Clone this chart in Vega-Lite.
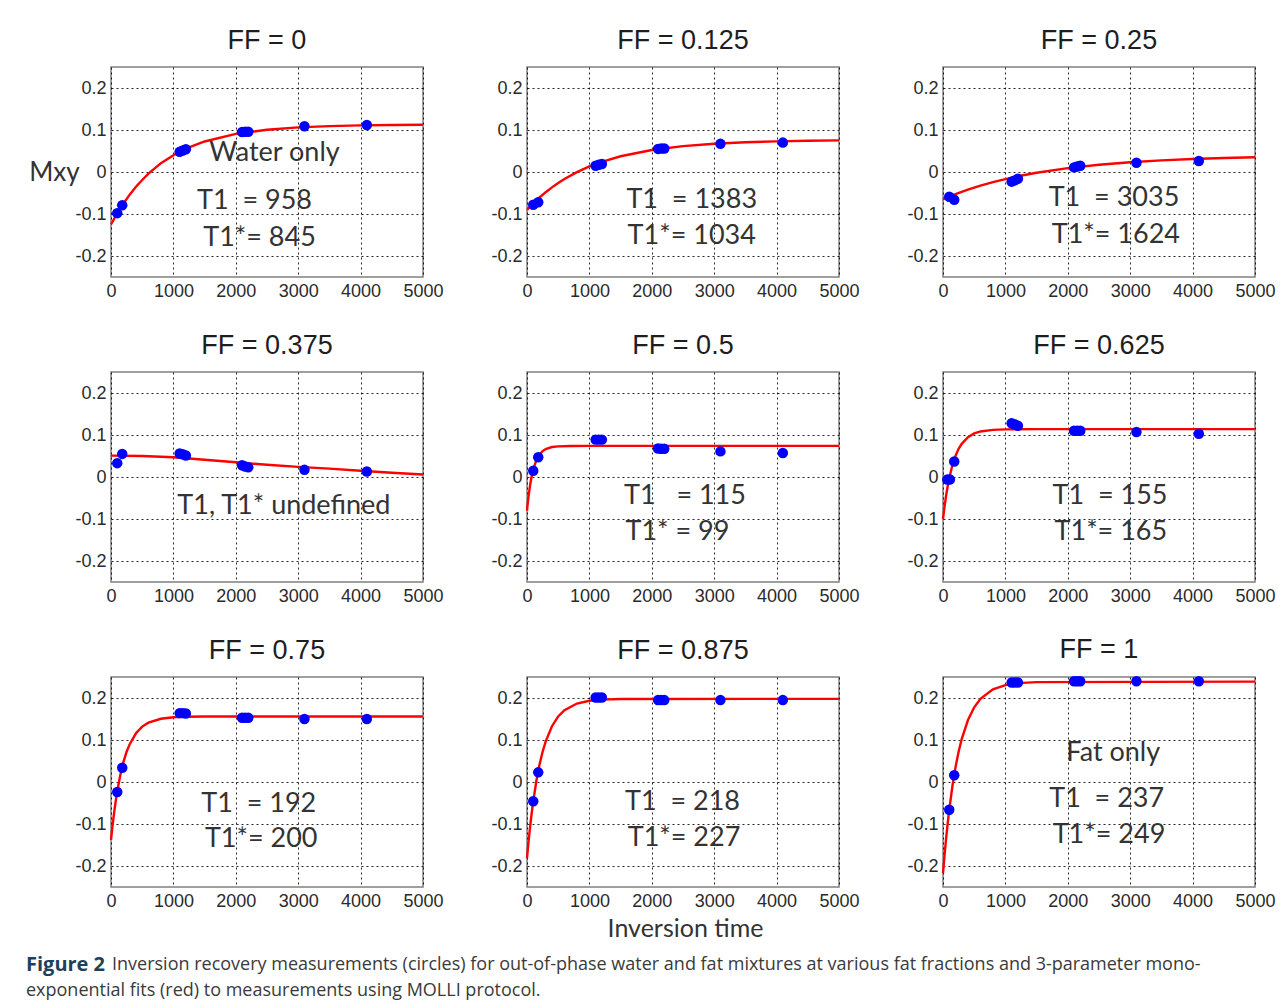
{
  "$schema": "https://vega.github.io/schema/vega-lite/v6.json",
  "background": "white",
  "padding": {"left": 26, "top": 26, "right": 5, "bottom": 5},
  "datasets": {
    "pts": [
      {"p": "0", "t": 100, "m": -0.098}, {"p": "0", "t": 180, "m": -0.079}, {"p": "0", "t": 1100, "m": 0.048}, {"p": "0", "t": 1150, "m": 0.051}, {"p": "0", "t": 1200, "m": 0.054}, {"p": "0", "t": 2100, "m": 0.095}, {"p": "0", "t": 2150, "m": 0.096}, {"p": "0", "t": 2200, "m": 0.096}, {"p": "0", "t": 3100, "m": 0.109}, {"p": "0", "t": 4100, "m": 0.112},
      {"p": "0.125", "t": 100, "m": -0.078}, {"p": "0.125", "t": 180, "m": -0.072}, {"p": "0.125", "t": 1100, "m": 0.015}, {"p": "0.125", "t": 1150, "m": 0.017}, {"p": "0.125", "t": 1200, "m": 0.019}, {"p": "0.125", "t": 2100, "m": 0.055}, {"p": "0.125", "t": 2150, "m": 0.056}, {"p": "0.125", "t": 2200, "m": 0.056}, {"p": "0.125", "t": 3100, "m": 0.067}, {"p": "0.125", "t": 4100, "m": 0.07},
      {"p": "0.25", "t": 100, "m": -0.059}, {"p": "0.25", "t": 180, "m": -0.066}, {"p": "0.25", "t": 1100, "m": -0.023}, {"p": "0.25", "t": 1150, "m": -0.02}, {"p": "0.25", "t": 1200, "m": -0.016}, {"p": "0.25", "t": 2100, "m": 0.011}, {"p": "0.25", "t": 2150, "m": 0.013}, {"p": "0.25", "t": 2200, "m": 0.015}, {"p": "0.25", "t": 3100, "m": 0.022}, {"p": "0.25", "t": 4100, "m": 0.026},
      {"p": "0.375", "t": 100, "m": 0.033}, {"p": "0.375", "t": 180, "m": 0.055}, {"p": "0.375", "t": 1100, "m": 0.056}, {"p": "0.375", "t": 1150, "m": 0.054}, {"p": "0.375", "t": 1200, "m": 0.051}, {"p": "0.375", "t": 2100, "m": 0.028}, {"p": "0.375", "t": 2150, "m": 0.025}, {"p": "0.375", "t": 2200, "m": 0.023}, {"p": "0.375", "t": 3100, "m": 0.017}, {"p": "0.375", "t": 4100, "m": 0.013},
      {"p": "0.5", "t": 100, "m": 0.015}, {"p": "0.5", "t": 180, "m": 0.047}, {"p": "0.5", "t": 1100, "m": 0.089}, {"p": "0.5", "t": 1150, "m": 0.089}, {"p": "0.5", "t": 1200, "m": 0.089}, {"p": "0.5", "t": 2100, "m": 0.068}, {"p": "0.5", "t": 2150, "m": 0.067}, {"p": "0.5", "t": 2200, "m": 0.067}, {"p": "0.5", "t": 3100, "m": 0.061}, {"p": "0.5", "t": 4100, "m": 0.057},
      {"p": "0.625", "t": 70, "m": -0.006}, {"p": "0.625", "t": 110, "m": -0.006}, {"p": "0.625", "t": 180, "m": 0.037}, {"p": "0.625", "t": 1100, "m": 0.128}, {"p": "0.625", "t": 1150, "m": 0.125}, {"p": "0.625", "t": 1200, "m": 0.122}, {"p": "0.625", "t": 2100, "m": 0.11}, {"p": "0.625", "t": 2150, "m": 0.11}, {"p": "0.625", "t": 2200, "m": 0.11}, {"p": "0.625", "t": 3100, "m": 0.107}, {"p": "0.625", "t": 4100, "m": 0.103},
      {"p": "0.75", "t": 100, "m": -0.024}, {"p": "0.75", "t": 180, "m": 0.034}, {"p": "0.75", "t": 1100, "m": 0.164}, {"p": "0.75", "t": 1150, "m": 0.164}, {"p": "0.75", "t": 1200, "m": 0.163}, {"p": "0.75", "t": 2100, "m": 0.153}, {"p": "0.75", "t": 2150, "m": 0.153}, {"p": "0.75", "t": 2200, "m": 0.153}, {"p": "0.75", "t": 3100, "m": 0.15}, {"p": "0.75", "t": 4100, "m": 0.15},
      {"p": "0.875", "t": 100, "m": -0.046}, {"p": "0.875", "t": 180, "m": 0.023}, {"p": "0.875", "t": 1100, "m": 0.201}, {"p": "0.875", "t": 1150, "m": 0.201}, {"p": "0.875", "t": 1200, "m": 0.201}, {"p": "0.875", "t": 2100, "m": 0.195}, {"p": "0.875", "t": 2150, "m": 0.195}, {"p": "0.875", "t": 2200, "m": 0.195}, {"p": "0.875", "t": 3100, "m": 0.195}, {"p": "0.875", "t": 4100, "m": 0.195},
      {"p": "1", "t": 100, "m": -0.066}, {"p": "1", "t": 180, "m": 0.016}, {"p": "1", "t": 1100, "m": 0.237}, {"p": "1", "t": 1150, "m": 0.237}, {"p": "1", "t": 1200, "m": 0.237}, {"p": "1", "t": 2100, "m": 0.24}, {"p": "1", "t": 2150, "m": 0.24}, {"p": "1", "t": 2200, "m": 0.24}, {"p": "1", "t": 3100, "m": 0.24}, {"p": "1", "t": 4100, "m": 0.24}
    ],
    "fit": [
      {"p": "0", "t": 0, "m": -0.125}, {"p": "0", "t": 100, "m": -0.098}, {"p": "0", "t": 200, "m": -0.075}, {"p": "0", "t": 300, "m": -0.054}, {"p": "0", "t": 400, "m": -0.035}, {"p": "0", "t": 500, "m": -0.019}, {"p": "0", "t": 600, "m": -0.004}, {"p": "0", "t": 800, "m": 0.021}, {"p": "0", "t": 1000, "m": 0.04}, {"p": "0", "t": 1200, "m": 0.0555}, {"p": "0", "t": 1500, "m": 0.0727}, {"p": "0", "t": 2000, "m": 0.0907}, {"p": "0", "t": 2500, "m": 0.1006}, {"p": "0", "t": 3000, "m": 0.1062}, {"p": "0", "t": 3500, "m": 0.1092}, {"p": "0", "t": 4000, "m": 0.1109}, {"p": "0", "t": 4500, "m": 0.1118}, {"p": "0", "t": 5000, "m": 0.1124},
      {"p": "0.125", "t": 0, "m": -0.09}, {"p": "0.125", "t": 100, "m": -0.0746}, {"p": "0.125", "t": 200, "m": -0.0607}, {"p": "0.125", "t": 300, "m": -0.0481}, {"p": "0.125", "t": 400, "m": -0.0366}, {"p": "0.125", "t": 500, "m": -0.0262}, {"p": "0.125", "t": 600, "m": -0.0167}, {"p": "0.125", "t": 800, "m": -0.0003}, {"p": "0.125", "t": 1000, "m": 0.0132}, {"p": "0.125", "t": 1200, "m": 0.0243}, {"p": "0.125", "t": 1500, "m": 0.0375}, {"p": "0.125", "t": 2000, "m": 0.0524}, {"p": "0.125", "t": 2500, "m": 0.0617}, {"p": "0.125", "t": 3000, "m": 0.0673}, {"p": "0.125", "t": 3500, "m": 0.0709}, {"p": "0.125", "t": 4000, "m": 0.073}, {"p": "0.125", "t": 4500, "m": 0.0744}, {"p": "0.125", "t": 5000, "m": 0.0752},
      {"p": "0.25", "t": 0, "m": -0.065}, {"p": "0.25", "t": 100, "m": -0.0587}, {"p": "0.25", "t": 200, "m": -0.0529}, {"p": "0.25", "t": 300, "m": -0.0473}, {"p": "0.25", "t": 400, "m": -0.0421}, {"p": "0.25", "t": 500, "m": -0.0372}, {"p": "0.25", "t": 600, "m": -0.0326}, {"p": "0.25", "t": 800, "m": -0.0242}, {"p": "0.25", "t": 1000, "m": -0.0168}, {"p": "0.25", "t": 1200, "m": -0.0102}, {"p": "0.25", "t": 1500, "m": -0.0018}, {"p": "0.25", "t": 2000, "m": 0.0092}, {"p": "0.25", "t": 2500, "m": 0.0173}, {"p": "0.25", "t": 3000, "m": 0.0233}, {"p": "0.25", "t": 3500, "m": 0.0277}, {"p": "0.25", "t": 4000, "m": 0.0309}, {"p": "0.25", "t": 4500, "m": 0.0332}, {"p": "0.25", "t": 5000, "m": 0.035},
      {"p": "0.375", "t": 0, "m": 0.051}, {"p": "0.375", "t": 500, "m": 0.05}, {"p": "0.375", "t": 1000, "m": 0.047}, {"p": "0.375", "t": 1500, "m": 0.041}, {"p": "0.375", "t": 2000, "m": 0.035}, {"p": "0.375", "t": 2500, "m": 0.029}, {"p": "0.375", "t": 3000, "m": 0.024}, {"p": "0.375", "t": 3500, "m": 0.02}, {"p": "0.375", "t": 4000, "m": 0.015}, {"p": "0.375", "t": 4500, "m": 0.01}, {"p": "0.375", "t": 5000, "m": 0.006},
      {"p": "0.5", "t": 0, "m": -0.08}, {"p": "0.5", "t": 10, "m": -0.065}, {"p": "0.5", "t": 25, "m": -0.0456}, {"p": "0.5", "t": 50, "m": -0.019}, {"p": "0.5", "t": 75, "m": 0.0018}, {"p": "0.5", "t": 100, "m": 0.018}, {"p": "0.5", "t": 150, "m": 0.04}, {"p": "0.5", "t": 200, "m": 0.0536}, {"p": "0.5", "t": 250, "m": 0.0617}, {"p": "0.5", "t": 300, "m": 0.0666}, {"p": "0.5", "t": 400, "m": 0.0713}, {"p": "0.5", "t": 500, "m": 0.073}, {"p": "0.5", "t": 700, "m": 0.0739}, {"p": "0.5", "t": 1000, "m": 0.074}, {"p": "0.5", "t": 5000, "m": 0.074},
      {"p": "0.625", "t": 0, "m": -0.1}, {"p": "0.625", "t": 25, "m": -0.07}, {"p": "0.625", "t": 50, "m": -0.044}, {"p": "0.625", "t": 75, "m": -0.022}, {"p": "0.625", "t": 100, "m": -0.003}, {"p": "0.625", "t": 150, "m": 0.028}, {"p": "0.625", "t": 200, "m": 0.05}, {"p": "0.625", "t": 250, "m": 0.067}, {"p": "0.625", "t": 300, "m": 0.079}, {"p": "0.625", "t": 400, "m": 0.095}, {"p": "0.625", "t": 500, "m": 0.1037}, {"p": "0.625", "t": 600, "m": 0.1084}, {"p": "0.625", "t": 800, "m": 0.1123}, {"p": "0.625", "t": 1000, "m": 0.1135}, {"p": "0.625", "t": 1500, "m": 0.114}, {"p": "0.625", "t": 5000, "m": 0.114},
      {"p": "0.75", "t": 0, "m": -0.138}, {"p": "0.75", "t": 25, "m": -0.1035}, {"p": "0.75", "t": 50, "m": -0.073}, {"p": "0.75", "t": 75, "m": -0.046}, {"p": "0.75", "t": 100, "m": -0.022}, {"p": "0.75", "t": 150, "m": 0.017}, {"p": "0.75", "t": 200, "m": 0.048}, {"p": "0.75", "t": 250, "m": 0.072}, {"p": "0.75", "t": 300, "m": 0.09}, {"p": "0.75", "t": 400, "m": 0.116}, {"p": "0.75", "t": 500, "m": 0.132}, {"p": "0.75", "t": 600, "m": 0.1414}, {"p": "0.75", "t": 800, "m": 0.1506}, {"p": "0.75", "t": 1000, "m": 0.154}, {"p": "0.75", "t": 1200, "m": 0.1553}, {"p": "0.75", "t": 1500, "m": 0.1558}, {"p": "0.75", "t": 5000, "m": 0.156},
      {"p": "0.875", "t": 0, "m": -0.181}, {"p": "0.875", "t": 25, "m": -0.1415}, {"p": "0.875", "t": 50, "m": -0.106}, {"p": "0.875", "t": 75, "m": -0.0744}, {"p": "0.875", "t": 100, "m": -0.046}, {"p": "0.875", "t": 150, "m": 0.0023}, {"p": "0.875", "t": 200, "m": 0.041}, {"p": "0.875", "t": 250, "m": 0.072}, {"p": "0.875", "t": 300, "m": 0.0969}, {"p": "0.875", "t": 400, "m": 0.1329}, {"p": "0.875", "t": 500, "m": 0.1561}, {"p": "0.875", "t": 600, "m": 0.171}, {"p": "0.875", "t": 800, "m": 0.1868}, {"p": "0.875", "t": 1000, "m": 0.1934}, {"p": "0.875", "t": 1200, "m": 0.1961}, {"p": "0.875", "t": 1500, "m": 0.1975}, {"p": "0.875", "t": 5000, "m": 0.198},
      {"p": "1", "t": 0, "m": -0.217}, {"p": "1", "t": 25, "m": -0.1735}, {"p": "1", "t": 50, "m": -0.134}, {"p": "1", "t": 75, "m": -0.0984}, {"p": "1", "t": 100, "m": -0.0662}, {"p": "1", "t": 150, "m": -0.0107}, {"p": "1", "t": 200, "m": 0.0348}, {"p": "1", "t": 250, "m": 0.0719}, {"p": "1", "t": 300, "m": 0.1023}, {"p": "1", "t": 400, "m": 0.1475}, {"p": "1", "t": 500, "m": 0.1778}, {"p": "1", "t": 600, "m": 0.198}, {"p": "1", "t": 800, "m": 0.2207}, {"p": "1", "t": 1000, "m": 0.2308}, {"p": "1", "t": 1200, "m": 0.2353}, {"p": "1", "t": 1500, "m": 0.2379}, {"p": "1", "t": 5000, "m": 0.239}
    ],
    "lab": [
      {"p": "0", "t": 2620, "m": 0.046, "txt": "Water only"}, {"p": "0", "t": 2300, "m": -0.07, "txt": "T1\u00a0\u00a0= 958"}, {"p": "0", "t": 2380, "m": -0.158, "txt": "T1*= 845"},
      {"p": "0.125", "t": 2640, "m": -0.067, "txt": "T1\u00a0\u00a0= 1383"}, {"p": "0.125", "t": 2640, "m": -0.152, "txt": "T1*= 1034"},
      {"p": "0.25", "t": 2740, "m": -0.063, "txt": "T1\u00a0\u00a0= 3035"}, {"p": "0.25", "t": 2770, "m": -0.15, "txt": "T1*= 1624"},
      {"p": "0.375", "t": 2770, "m": -0.068, "txt": "T1, T1* undefined"},
      {"p": "0.5", "t": 2532, "m": -0.046, "txt": "T1\u00a0\u00a0\u00a0= 115"}, {"p": "0.5", "t": 2411, "m": -0.13, "txt": "T1* = 99"},
      {"p": "0.625", "t": 2676, "m": -0.046, "txt": "T1\u00a0\u00a0= 155"}, {"p": "0.625", "t": 2690, "m": -0.13, "txt": "T1*= 165"},
      {"p": "0.75", "t": 2367, "m": -0.0515, "txt": "T1\u00a0\u00a0= 192"}, {"p": "0.75", "t": 2407, "m": -0.135, "txt": "T1*= 200"},
      {"p": "0.875", "t": 2492, "m": -0.048, "txt": "T1\u00a0\u00a0= 218"}, {"p": "0.875", "t": 2516, "m": -0.133, "txt": "T1*= 227"},
      {"p": "1", "t": 2728, "m": 0.068, "txt": "Fat only"}, {"p": "1", "t": 2623, "m": -0.04, "txt": "T1\u00a0\u00a0= 237"}, {"p": "1", "t": 2660, "m": -0.126, "txt": "T1*= 249"}
    ],
    "cap": [
      {"line": 1, "part": "b", "txt": "Figure 2"},
      {"line": 1, "part": "r1", "txt": "Inversion recovery measurements (circles) for out-of-phase water and fat mixtures at various fat fractions and 3-parameter mono-"},
      {"line": 2, "part": "r2", "txt": "exponential fits (red) to measurements using MOLLI protocol."}
    ]
  },
  "spacing": 10,
  "vconcat": [
    {
      "columns": 3,
      "bounds": "flush",
      "spacing": {"row": 95, "column": 104},
      "concat": [
        {
          "title": "FF = 0", "width": 312, "height": 210,
          "encoding": {
            "x": {"field": "t", "type": "quantitative", "scale": {"domain": [0, 5000], "nice": false}, "axis": {"title": null, "values": [0, 1000, 2000, 3000, 4000, 5000], "format": "d"}},
            "y": {"field": "m", "type": "quantitative", "scale": {"domain": [-0.25, 0.25], "nice": false, "zero": false}, "axis": {"values": [-0.2, -0.1, 0, 0.1, 0.2], "labelExpr": "datum.value < 0 ? '-' + format(-datum.value, '.1f') : (datum.value == 0 ? '0' : format(datum.value, '.1f'))", "title": "Mxy", "titleAngle": 0, "titleFont": "Lato", "titleFontSize": 26, "titleFontWeight": "normal", "titleColor": "#333333", "titleAlign": "center", "titleBaseline": "middle", "titleX": -57, "titleY": 105}}
          },
          "layer": [
            {"data": {"name": "fit"}, "transform": [{"filter": "datum.p === '0'"}], "mark": {"type": "line", "color": "#ff0000", "strokeWidth": 2.4}},
            {"data": {"name": "pts"}, "transform": [{"filter": "datum.p === '0'"}], "mark": {"type": "circle", "color": "#0000ff", "size": 110, "opacity": 1}},
            {"data": {"name": "lab"}, "transform": [{"filter": "datum.p === '0'"}], "mark": {"type": "text", "font": "Lato", "fontSize": 27, "color": "#333333", "align": "center", "baseline": "middle"}, "encoding": {"text": {"field": "txt"}}}
          ]
        },
        {
          "title": "FF = 0.125", "width": 312, "height": 210,
          "encoding": {
            "x": {"field": "t", "type": "quantitative", "scale": {"domain": [0, 5000], "nice": false}, "axis": {"title": null, "values": [0, 1000, 2000, 3000, 4000, 5000], "format": "d"}},
            "y": {"field": "m", "type": "quantitative", "scale": {"domain": [-0.25, 0.25], "nice": false, "zero": false}, "axis": {"title": null, "values": [-0.2, -0.1, 0, 0.1, 0.2], "labelExpr": "datum.value < 0 ? '-' + format(-datum.value, '.1f') : (datum.value == 0 ? '0' : format(datum.value, '.1f'))"}}
          },
          "layer": [
            {"data": {"name": "fit"}, "transform": [{"filter": "datum.p === '0.125'"}], "mark": {"type": "line", "color": "#ff0000", "strokeWidth": 2.4}},
            {"data": {"name": "pts"}, "transform": [{"filter": "datum.p === '0.125'"}], "mark": {"type": "circle", "color": "#0000ff", "size": 110, "opacity": 1}},
            {"data": {"name": "lab"}, "transform": [{"filter": "datum.p === '0.125'"}], "mark": {"type": "text", "font": "Lato", "fontSize": 27, "color": "#333333", "align": "center", "baseline": "middle"}, "encoding": {"text": {"field": "txt"}}}
          ]
        },
        {
          "title": "FF = 0.25", "width": 312, "height": 210,
          "encoding": {
            "x": {"field": "t", "type": "quantitative", "scale": {"domain": [0, 5000], "nice": false}, "axis": {"title": null, "values": [0, 1000, 2000, 3000, 4000, 5000], "format": "d"}},
            "y": {"field": "m", "type": "quantitative", "scale": {"domain": [-0.25, 0.25], "nice": false, "zero": false}, "axis": {"title": null, "values": [-0.2, -0.1, 0, 0.1, 0.2], "labelExpr": "datum.value < 0 ? '-' + format(-datum.value, '.1f') : (datum.value == 0 ? '0' : format(datum.value, '.1f'))"}}
          },
          "layer": [
            {"data": {"name": "fit"}, "transform": [{"filter": "datum.p === '0.25'"}], "mark": {"type": "line", "color": "#ff0000", "strokeWidth": 2.4}},
            {"data": {"name": "pts"}, "transform": [{"filter": "datum.p === '0.25'"}], "mark": {"type": "circle", "color": "#0000ff", "size": 110, "opacity": 1}},
            {"data": {"name": "lab"}, "transform": [{"filter": "datum.p === '0.25'"}], "mark": {"type": "text", "font": "Lato", "fontSize": 27, "color": "#333333", "align": "center", "baseline": "middle"}, "encoding": {"text": {"field": "txt"}}}
          ]
        },
        {
          "title": "FF = 0.375", "width": 312, "height": 210,
          "encoding": {
            "x": {"field": "t", "type": "quantitative", "scale": {"domain": [0, 5000], "nice": false}, "axis": {"title": null, "values": [0, 1000, 2000, 3000, 4000, 5000], "format": "d"}},
            "y": {"field": "m", "type": "quantitative", "scale": {"domain": [-0.25, 0.25], "nice": false, "zero": false}, "axis": {"title": null, "values": [-0.2, -0.1, 0, 0.1, 0.2], "labelExpr": "datum.value < 0 ? '-' + format(-datum.value, '.1f') : (datum.value == 0 ? '0' : format(datum.value, '.1f'))"}}
          },
          "layer": [
            {"data": {"name": "fit"}, "transform": [{"filter": "datum.p === '0.375'"}], "mark": {"type": "line", "color": "#ff0000", "strokeWidth": 2.4}},
            {"data": {"name": "pts"}, "transform": [{"filter": "datum.p === '0.375'"}], "mark": {"type": "circle", "color": "#0000ff", "size": 110, "opacity": 1}},
            {"data": {"name": "lab"}, "transform": [{"filter": "datum.p === '0.375'"}], "mark": {"type": "text", "font": "Lato", "fontSize": 27, "color": "#333333", "align": "center", "baseline": "middle"}, "encoding": {"text": {"field": "txt"}}}
          ]
        },
        {
          "title": "FF = 0.5", "width": 312, "height": 210,
          "encoding": {
            "x": {"field": "t", "type": "quantitative", "scale": {"domain": [0, 5000], "nice": false}, "axis": {"title": null, "values": [0, 1000, 2000, 3000, 4000, 5000], "format": "d"}},
            "y": {"field": "m", "type": "quantitative", "scale": {"domain": [-0.25, 0.25], "nice": false, "zero": false}, "axis": {"title": null, "values": [-0.2, -0.1, 0, 0.1, 0.2], "labelExpr": "datum.value < 0 ? '-' + format(-datum.value, '.1f') : (datum.value == 0 ? '0' : format(datum.value, '.1f'))"}}
          },
          "layer": [
            {"data": {"name": "fit"}, "transform": [{"filter": "datum.p === '0.5'"}], "mark": {"type": "line", "color": "#ff0000", "strokeWidth": 2.4}},
            {"data": {"name": "pts"}, "transform": [{"filter": "datum.p === '0.5'"}], "mark": {"type": "circle", "color": "#0000ff", "size": 110, "opacity": 1}},
            {"data": {"name": "lab"}, "transform": [{"filter": "datum.p === '0.5'"}], "mark": {"type": "text", "font": "Lato", "fontSize": 27, "color": "#333333", "align": "center", "baseline": "middle"}, "encoding": {"text": {"field": "txt"}}}
          ]
        },
        {
          "title": "FF = 0.625", "width": 312, "height": 210,
          "encoding": {
            "x": {"field": "t", "type": "quantitative", "scale": {"domain": [0, 5000], "nice": false}, "axis": {"title": null, "values": [0, 1000, 2000, 3000, 4000, 5000], "format": "d"}},
            "y": {"field": "m", "type": "quantitative", "scale": {"domain": [-0.25, 0.25], "nice": false, "zero": false}, "axis": {"title": null, "values": [-0.2, -0.1, 0, 0.1, 0.2], "labelExpr": "datum.value < 0 ? '-' + format(-datum.value, '.1f') : (datum.value == 0 ? '0' : format(datum.value, '.1f'))"}}
          },
          "layer": [
            {"data": {"name": "fit"}, "transform": [{"filter": "datum.p === '0.625'"}], "mark": {"type": "line", "color": "#ff0000", "strokeWidth": 2.4}},
            {"data": {"name": "pts"}, "transform": [{"filter": "datum.p === '0.625'"}], "mark": {"type": "circle", "color": "#0000ff", "size": 110, "opacity": 1}},
            {"data": {"name": "lab"}, "transform": [{"filter": "datum.p === '0.625'"}], "mark": {"type": "text", "font": "Lato", "fontSize": 27, "color": "#333333", "align": "center", "baseline": "middle"}, "encoding": {"text": {"field": "txt"}}}
          ]
        },
        {
          "title": "FF = 0.75", "width": 312, "height": 210,
          "encoding": {
            "x": {"field": "t", "type": "quantitative", "scale": {"domain": [0, 5000], "nice": false}, "axis": {"title": null, "values": [0, 1000, 2000, 3000, 4000, 5000], "format": "d"}},
            "y": {"field": "m", "type": "quantitative", "scale": {"domain": [-0.25, 0.25], "nice": false, "zero": false}, "axis": {"title": null, "values": [-0.2, -0.1, 0, 0.1, 0.2], "labelExpr": "datum.value < 0 ? '-' + format(-datum.value, '.1f') : (datum.value == 0 ? '0' : format(datum.value, '.1f'))"}}
          },
          "layer": [
            {"data": {"name": "fit"}, "transform": [{"filter": "datum.p === '0.75'"}], "mark": {"type": "line", "color": "#ff0000", "strokeWidth": 2.4}},
            {"data": {"name": "pts"}, "transform": [{"filter": "datum.p === '0.75'"}], "mark": {"type": "circle", "color": "#0000ff", "size": 110, "opacity": 1}},
            {"data": {"name": "lab"}, "transform": [{"filter": "datum.p === '0.75'"}], "mark": {"type": "text", "font": "Lato", "fontSize": 27, "color": "#333333", "align": "center", "baseline": "middle"}, "encoding": {"text": {"field": "txt"}}}
          ]
        },
        {
          "title": "FF = 0.875", "width": 312, "height": 210,
          "encoding": {
            "x": {"field": "t", "type": "quantitative", "scale": {"domain": [0, 5000], "nice": false}, "axis": {"values": [0, 1000, 2000, 3000, 4000, 5000], "format": "d", "title": "Inversion time", "titleFont": "Lato", "titleFontSize": 25, "titleFontWeight": "normal", "titleColor": "#333333", "titleBaseline": "alphabetic", "titleAlign": "center", "titleX": 158, "titleY": 49}},
            "y": {"field": "m", "type": "quantitative", "scale": {"domain": [-0.25, 0.25], "nice": false, "zero": false}, "axis": {"title": null, "values": [-0.2, -0.1, 0, 0.1, 0.2], "labelExpr": "datum.value < 0 ? '-' + format(-datum.value, '.1f') : (datum.value == 0 ? '0' : format(datum.value, '.1f'))"}}
          },
          "layer": [
            {"data": {"name": "fit"}, "transform": [{"filter": "datum.p === '0.875'"}], "mark": {"type": "line", "color": "#ff0000", "strokeWidth": 2.4}},
            {"data": {"name": "pts"}, "transform": [{"filter": "datum.p === '0.875'"}], "mark": {"type": "circle", "color": "#0000ff", "size": 110, "opacity": 1}},
            {"data": {"name": "lab"}, "transform": [{"filter": "datum.p === '0.875'"}], "mark": {"type": "text", "font": "Lato", "fontSize": 27, "color": "#333333", "align": "center", "baseline": "middle"}, "encoding": {"text": {"field": "txt"}}}
          ]
        },
        {
          "title": "FF = 1", "width": 312, "height": 210,
          "encoding": {
            "x": {"field": "t", "type": "quantitative", "scale": {"domain": [0, 5000], "nice": false}, "axis": {"title": null, "values": [0, 1000, 2000, 3000, 4000, 5000], "format": "d"}},
            "y": {"field": "m", "type": "quantitative", "scale": {"domain": [-0.25, 0.25], "nice": false, "zero": false}, "axis": {"title": null, "values": [-0.2, -0.1, 0, 0.1, 0.2], "labelExpr": "datum.value < 0 ? '-' + format(-datum.value, '.1f') : (datum.value == 0 ? '0' : format(datum.value, '.1f'))"}}
          },
          "layer": [
            {"data": {"name": "fit"}, "transform": [{"filter": "datum.p === '1'"}], "mark": {"type": "line", "color": "#ff0000", "strokeWidth": 2.4}},
            {"data": {"name": "pts"}, "transform": [{"filter": "datum.p === '1'"}], "mark": {"type": "circle", "color": "#0000ff", "size": 110, "opacity": 1}},
            {"data": {"name": "lab"}, "transform": [{"filter": "datum.p === '1'"}], "mark": {"type": "text", "font": "Lato", "fontSize": 27, "color": "#333333", "align": "center", "baseline": "middle"}, "encoding": {"text": {"field": "txt"}}}
          ]
        }
      ]
    },
    {
      "width": 1150, "height": 52,
      "view": {"stroke": null},
      "data": {"name": "cap"},
      "encoding": {
        "x": {"datum": 0, "type": "quantitative", "scale": {"domain": [0, 1]}, "axis": null},
        "y": {"field": "line", "type": "quantitative", "scale": {"domain": [0.5, 2.5], "reverse": true}, "axis": null},
        "text": {"field": "txt"}
      },
      "layer": [
        {"transform": [{"filter": "datum.part === 'b'"}], "mark": {"type": "text", "font": "Open Sans", "fontWeight": "bold", "fontSize": 20, "color": "#1d3f5e", "align": "left", "baseline": "middle", "dx": -85}},
        {"transform": [{"filter": "datum.part === 'r1'"}], "mark": {"type": "text", "font": "Open Sans", "fontSize": 18, "color": "#3a3a3a", "align": "left", "baseline": "middle", "dx": 1}},
        {"transform": [{"filter": "datum.part === 'r2'"}], "mark": {"type": "text", "font": "Open Sans", "fontSize": 18, "color": "#3a3a3a", "align": "left", "baseline": "middle", "dx": -85}}
      ]
    }
  ],
  "config": {
    "font": "Liberation Sans",
    "view": {"stroke": "#808080", "strokeWidth": 1.5},
    "axis": {"grid": true, "gridColor": "#000000", "gridDash": [2, 3], "gridWidth": 1, "gridOpacity": 0.85, "domain": false, "ticks": false, "labelFont": "Liberation Sans", "labelFontSize": 18, "labelColor": "#2a2a2a", "labelOverlap": false},
    "axisX": {"labelPadding": 5, "labelFlush": false},
    "axisY": {"labelPadding": 5},
    "title": {"font": "Liberation Sans", "fontSize": 27, "fontWeight": "normal", "color": "#1e1e1e", "offset": 12}
  }
}
